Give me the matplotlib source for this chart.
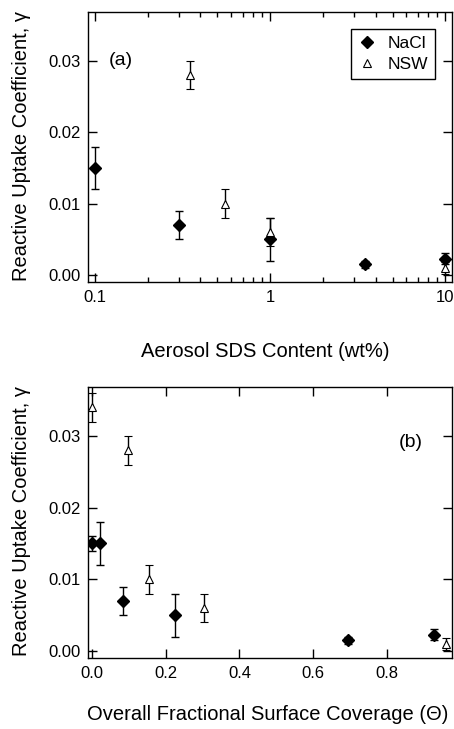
import matplotlib
matplotlib.use("Agg")
import matplotlib.pyplot as plt
from matplotlib.ticker import LogLocator, NullFormatter, FormatStrFormatter
from matplotlib.lines import Line2D

plt.rcParams['font.family'] = ['Liberation Sans', 'DejaVu Sans']

# Panel (a): uptake vs aerosol SDS content (wt%)
a_nacl_x = [0.1, 0.3, 1.0, 3.5, 10.0]
a_nacl_y = [0.015, 0.007, 0.005, 0.0015, 0.0023]
a_nacl_err = [0.003, 0.002, 0.003, 0.0005, 0.0008]
a_nsw_x = [0.35, 0.55, 1.0, 10.0]
a_nsw_y = [0.028, 0.010, 0.006, 0.001]
a_nsw_err = [0.002, 0.002, 0.002, 0.0008]

# Panel (b): uptake vs overall fractional surface coverage
b_nacl_x = [0.0, 0.024, 0.084, 0.225, 0.694, 0.926]
b_nacl_y = [0.015, 0.015, 0.007, 0.005, 0.0015, 0.0023]
b_nacl_err = [0.001, 0.003, 0.002, 0.003, 0.0005, 0.0008]
b_nsw_x = [0.0, 0.099, 0.155, 0.305, 0.958]
b_nsw_y = [0.034, 0.028, 0.010, 0.006, 0.001]
b_nsw_err = [0.002, 0.002, 0.002, 0.002, 0.0008]

y_ticks = [0.00, 0.01, 0.02, 0.03]
a_x_ticks = [0.1, 1, 10]
a_x_labels = ['0.1', '1', '10']
b_x_ticks = [0.0, 0.2, 0.4, 0.6, 0.8]

fig = plt.figure(figsize=(4.54, 7.29), dpi=100)
ax1 = fig.add_axes([0.194, 0.613, 0.802, 0.370])
ax2 = fig.add_axes([0.194, 0.097, 0.802, 0.372])

def draw(ax, nx, ny, ne, sx, sy, se):
    ax.errorbar(nx, ny, yerr=ne, fmt='D', color='black', mfc='black', mec='black',
                ms=6.5, elinewidth=1.0, capsize=3.2, capthick=1.0, zorder=3)
    ax.errorbar(sx, sy, yerr=se, fmt='^', color='black', mfc='white', mec='black',
                ms=6, mew=0.8, elinewidth=1.0, capsize=3.2, capthick=1.0, zorder=3)
    ax.set_ylim(-0.001, 0.0368)
    ax.set_yticks(y_ticks)
    ax.yaxis.set_major_formatter(FormatStrFormatter('%.2f'))
    ax.tick_params(which='both', direction='in', top=True, right=True, labelsize=12, width=1.0)
    ax.tick_params(which='major', length=6.5, pad=5.5)
    ax.tick_params(which='minor', length=3.5)
    for s in ax.spines.values():
        s.set_linewidth(1.0)
    ax.set_ylabel('Reactive Uptake Coefficient, γ', fontsize=14.5)
    ax.yaxis.label.set_va('center')
    ax.yaxis.set_label_coords(-0.184, 0.505)

draw(ax1, a_nacl_x, a_nacl_y, a_nacl_err, a_nsw_x, a_nsw_y, a_nsw_err)
ax1.set_xscale('log')
ax1.set_xlim(0.0912, 10.96)
ax1.set_xticks(a_x_ticks)
ax1.set_xticklabels(a_x_labels)
ax1.xaxis.set_minor_locator(LogLocator(base=10, subs=range(2, 10)))
ax1.xaxis.set_minor_formatter(NullFormatter())
ax1.set_xlabel('Aerosol SDS Content (wt%)', fontsize=14.5)
ax1.xaxis.label.set_va('center')
ax1.xaxis.set_label_coords(0.486, -0.259)
ax1.text(0.058, 0.82, '(a)', transform=ax1.transAxes, fontsize=14, va='center', ha='left')

h1 = Line2D([], [], marker='D', ls='none', color='black', ms=6.5)
h2 = Line2D([], [], marker='^', ls='none', mfc='white', mec='black', ms=6, mew=0.8)
leg = ax1.legend([h1, h2], ['NaCl', 'NSW'], loc='upper right', bbox_to_anchor=(0.953, 0.94),
                 borderaxespad=0.0, fontsize=12.5, frameon=True, fancybox=False,
                 edgecolor='black', handlelength=1.0, handletextpad=0.7, borderpad=0.4,
                 labelspacing=0.35, framealpha=1)
leg.get_frame().set_linewidth(1.0)

draw(ax2, b_nacl_x, b_nacl_y, b_nacl_err, b_nsw_x, b_nsw_y, b_nsw_err)
ax2.set_xlim(-0.0096, 0.976)
ax2.set_xticks(b_x_ticks)
ax2.xaxis.set_major_formatter(FormatStrFormatter('%.1f'))
ax2.set_xlabel('Overall Fractional Surface Coverage (Θ)', fontsize=14.5)
ax2.xaxis.label.set_va('center')
ax2.xaxis.set_label_coords(0.494, -0.207)
ax2.text(0.92, 0.795, '(b)', transform=ax2.transAxes, fontsize=14, va='center', ha='right')

fig.savefig('out.png', dpi=100)
